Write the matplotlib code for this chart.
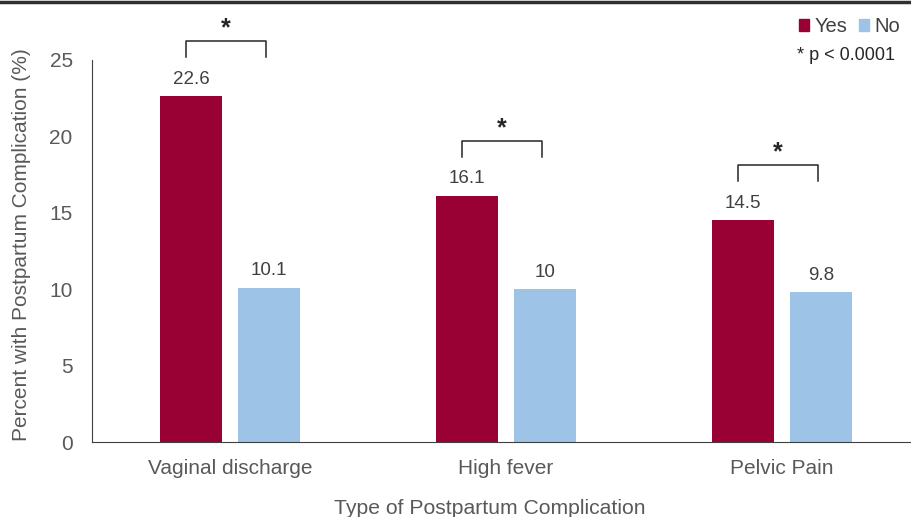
import numpy as np
import matplotlib.pyplot as plt
from matplotlib.patches import Patch
from matplotlib.lines import Line2D

# data
categories = ['Vaginal discharge', 'High fever', 'Pelvic Pain']
yes_vals = [22.6, 16.1, 14.5]
no_vals = [10.1, 10.0, 9.8]
no_labels = ['10.1', '10', '9.8']

yes_col = '#990033'
no_col = '#9DC3E6'
txt_col = '#404040'

plt.rcParams['font.family'] = ['Liberation Sans', 'DejaVu Sans']

fig = plt.figure(figsize=(9.12, 5.17), dpi=100)
ax = fig.add_axes([0.101, 0.145, 0.899, 0.84])

x = np.arange(len(categories))
w = 0.225
off = 0.141
ax.bar(x - off, yes_vals, w, color=yes_col)
ax.bar(x + off, no_vals, w, color=no_col)

for i in range(len(categories)):
    ax.text(x[i] - off, yes_vals[i] + 0.55, str(yes_vals[i]), ha='center', va='bottom',
            fontsize=13.5, color=txt_col)
    ax.text(x[i] + off, no_vals[i] + 0.55, no_labels[i], ha='center', va='bottom',
            fontsize=13.5, color=txt_col)
    # significance bracket
    top = yes_vals[i] + 3.6
    bx0 = x[i] - 0.16
    bx1 = x[i] + 0.13
    ax.plot([bx0, bx0, bx1, bx1], [top - 1.05, top, top, top - 1.05], color='#262626', lw=1.1)
    ax.text((bx0 + bx1) / 2, top + 0.05, '*', ha='center', va='bottom', fontsize=18,
            fontweight='bold', color='#262626')

ax.set_xlim(-0.5, 2.471)
ax.set_ylim(0, 28.4)
ax.set_yticks([0, 5, 10, 15, 20, 25])
ax.set_xticks(x)
ax.set_xticklabels(categories)
ax.tick_params(axis='both', length=0, labelsize=15, colors='#595959')
ax.tick_params(axis='x', pad=12)
ax.tick_params(axis='y', pad=14)
for s in ['top', 'right']:
    ax.spines[s].set_visible(False)
ax.spines['left'].set_bounds(0, 25)
ax.spines['left'].set_color('#404040')
ax.spines['bottom'].set_color('#404040')

fig.text(22 / 912, 1 - 245 / 517, 'Percent with Postpartum Complication (%)', rotation=90,
         ha='center', va='center', fontsize=15, color='#595959')
fig.text(490 / 912, 1 - 509 / 517, 'Type of Postpartum Complication', ha='center', va='center',
         fontsize=15.2, color='#595959')

handles = [Patch(color=yes_col), Patch(color=no_col)]
leg = fig.legend(handles, ['Yes', 'No'], loc='upper right', bbox_to_anchor=(1.0, 0.99),
                 ncol=2, frameon=False, fontsize=14.5, handlelength=0.5, handleheight=0.5,
                 handletextpad=0.25, columnspacing=0.6, labelcolor='#404040',
                 borderaxespad=0.2)
fig.text(895 / 912, 1 - 56 / 517, '* p < 0.0001', ha='right', va='center', fontsize=13,
         color='#262626')

# top border line
fig.add_artist(Line2D([0, 1], [0.997, 0.997], transform=fig.transFigure, color='#303030', lw=2.5))

fig.savefig('out.png', dpi=100)
